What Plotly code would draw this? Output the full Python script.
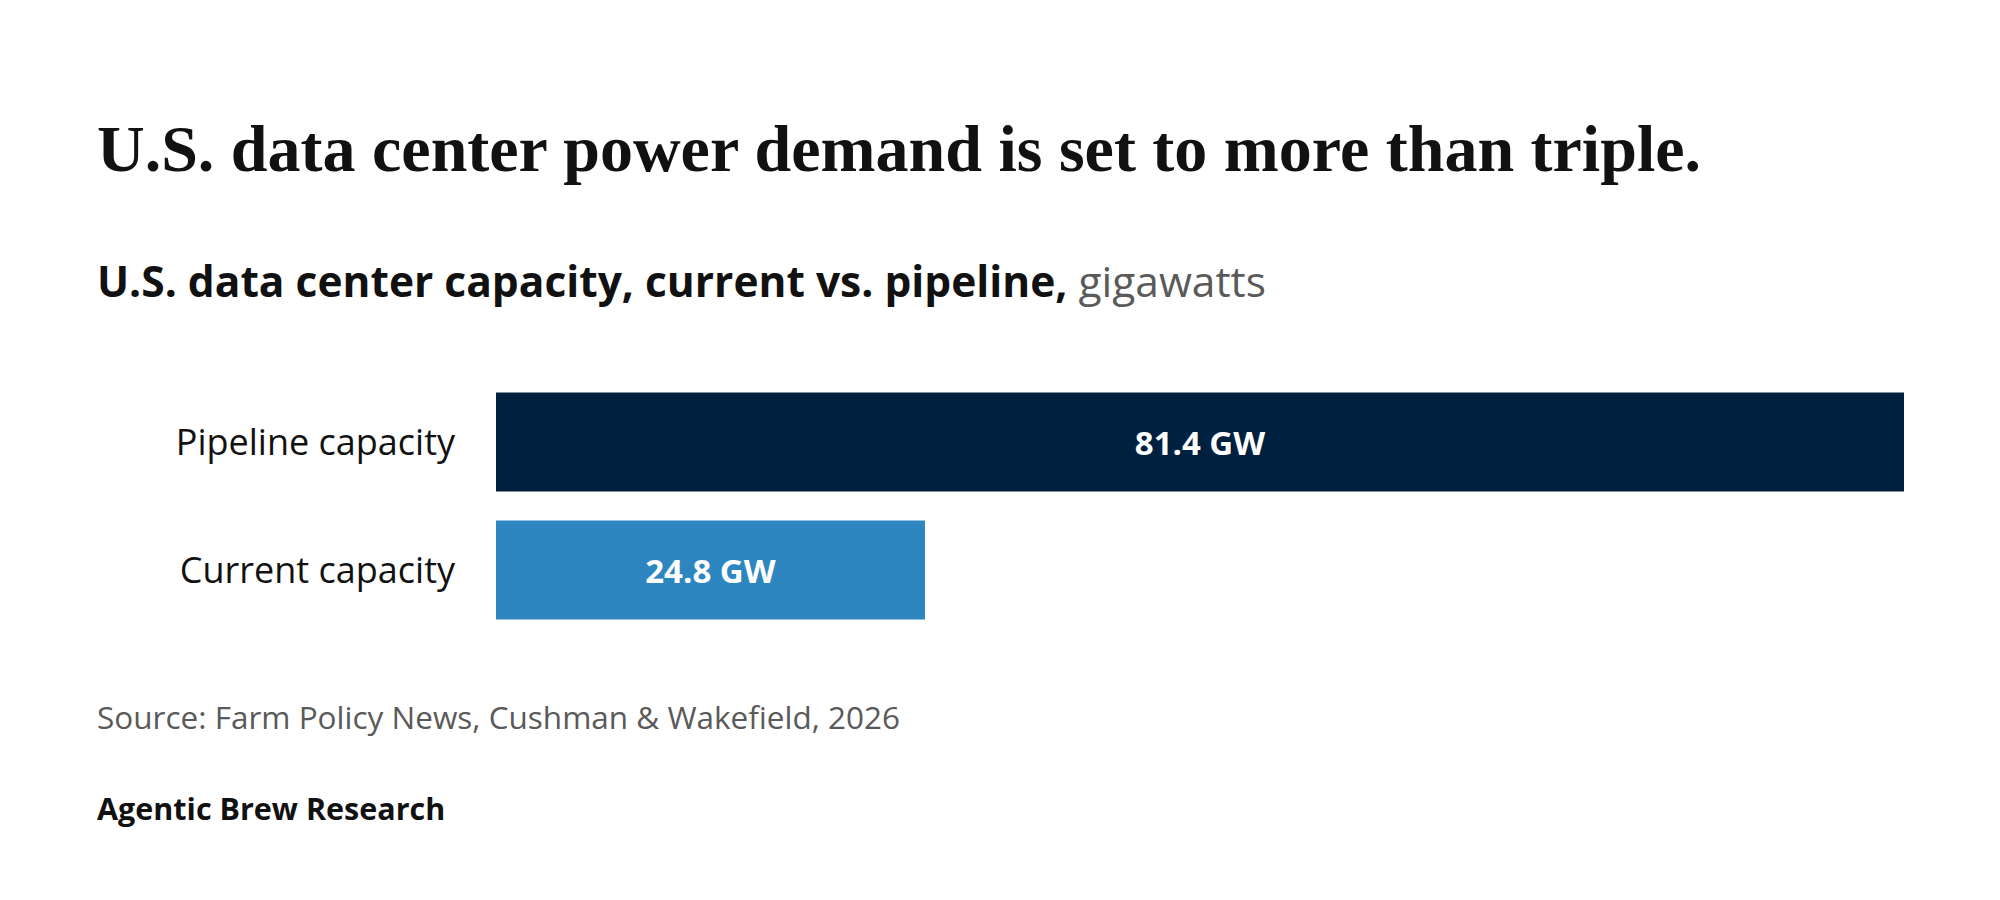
import plotly.graph_objects as go

categories = ["Current capacity", "Pipeline capacity"]
values = [24.8, 81.4]
bar_colors = ["#2E86C1", "#00203F"]

title_text = "U.S. data center power demand is set to more than triple."
subtitle_bold = "U.S. data center capacity, current vs. pipeline,"
subtitle_unit = "gigawatts"
source_text = "Source: Farm Policy News, Cushman & Wakefield, 2026"
brand_text = "Agentic Brew Research"

W, H = 2000, 900
OFF = 8  # default page body margin
L, T = 496 - OFF, 378 - OFF
PW, PH = 1408, 256
R, B = W - L - PW, H - T - PH

def px(x):
    return (x - OFF - L) / PW

def py(y):
    return (T + PH - (y - OFF)) / PH

SANS = "Open Sans"
SERIF = "Liberation Serif"

fig = go.Figure(
    go.Bar(
        x=values,
        y=categories,
        orientation="h",
        marker=dict(color=bar_colors, line=dict(width=0)),
        texttemplate="<b>%{x} GW</b>",
        textposition="inside",
        insidetextanchor="middle",
        textfont=dict(family=SANS, size=33, color="white"),
        hoverinfo="skip",
    )
)

fig.update_layout(
    width=W,
    height=H,
    margin=dict(l=L, r=R, t=T, b=B, pad=0),
    paper_bgcolor="white",
    plot_bgcolor="white",
    bargap=0.227,
    showlegend=False,
    xaxis=dict(range=[0, 81.4], visible=False, fixedrange=True),
    yaxis=dict(
        categoryorder="array",
        categoryarray=categories,
        showgrid=False,
        showline=False,
        ticks="",
        ticklabelstandoff=40,
        tickfont=dict(family=SANS, size=36, color="#111111"),
        fixedrange=True,
    ),
    annotations=[
        dict(text=f"<b>{title_text}</b>", xref="paper", yref="paper", x=px(95), y=py(148),
             xanchor="left", yanchor="middle", showarrow=False,
             font=dict(family=SERIF, size=66, color="#111111")),
        dict(text=f"<b>{subtitle_bold}</b> <span style='color:#5a5a5a'>{subtitle_unit}</span>",
             xref="paper", yref="paper", x=px(95), y=py(280),
             xanchor="left", yanchor="middle", showarrow=False,
             font=dict(family=SANS, size=42.5, color="#111111")),
        dict(text=source_text, xref="paper", yref="paper", x=px(95), y=py(716),
             xanchor="left", yanchor="middle", showarrow=False,
             font=dict(family=SANS, size=31.5, color="#5a5a5a")),
        dict(text=f"<b>{brand_text}</b>", xref="paper", yref="paper", x=px(95), y=py(808),
             xanchor="left", yanchor="middle", showarrow=False,
             font=dict(family=SANS, size=30.5, color="#111111")),
    ],
)

fig.write_html("out.html")
